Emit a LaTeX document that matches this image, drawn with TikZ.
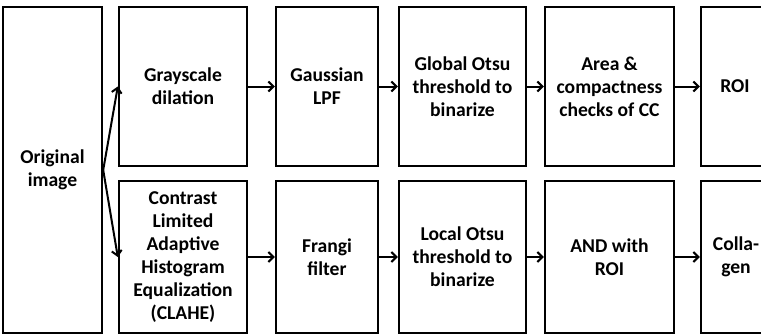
\documentclass[tikz,border=0pt]{standalone}
\usepackage{fontspec}
\setmainfont{Carlito}
\usetikzlibrary{arrows.meta}
\begin{document}
\begin{tikzpicture}[x=1pt,y=-1pt,
  txt/.style={inner sep=0pt,align=center,font=\fontsize{19.6}{23}\selectfont\bfseries},
  box/.style={txt,draw=black,line width=2.4pt,fill=white},
  conn/.style={line width=2pt,-{Straight Barb[length=5pt,width=10pt,line width=2pt]}}]
\useasboundingbox (0,0) rectangle (761,335);
\clip (0,0) rectangle (761,335);
% boxes
\node[box,minimum width=99pt,minimum height=326pt] (orig) at (52.5,170) {Original\\image};
\node[box,minimum width=128pt,minimum height=159pt] (g1) at (183,86.5) {Grayscale\\dilation};
\node[box,minimum width=102pt,minimum height=159pt] (g2) at (327,86.5) {Gaussian\\LPF};
\node[box,minimum width=127pt,minimum height=159pt] (g3) at (462.5,86.5) {Global Otsu\\threshold to\\binarize};
\node[box,minimum width=129pt,minimum height=159pt] (g4) at (609.5,86.5) {Area \&\\compactness\\checks of CC};
\node[box,minimum width=99pt,minimum height=159pt] (g5) at (750.5,86.5) {};
\node[txt] (g5t) at (735,86.5) {ROI};
\node[box,minimum width=128pt,minimum height=152pt] (c1) at (183,257) {Contrast\\Limited\\Adaptive\\Histogram\\Equalization\\(CLAHE)};
\node[box,minimum width=102pt,minimum height=152pt] (c2) at (327,257) {Frangi\\filter};
\node[box,minimum width=127pt,minimum height=152pt] (c3) at (462.5,257) {Local Otsu\\threshold to\\binarize};
\node[box,minimum width=129pt,minimum height=152pt] (c4) at (609.5,257) {AND with\\ROI};
\node[box,minimum width=99pt,minimum height=152pt] (c5) at (750.5,257) {};
\node[txt] (c5t) at (736,257) {Colla-\\gen};
% connectors
\draw[conn] (orig.east) -- (g1.west);
\draw[conn] (orig.east) -- (c1.west);
\draw[conn] (g1) -- (g2);
\draw[conn] (g2) -- (g3);
\draw[conn] (g3) -- (g4);
\draw[conn] (g4) -- (g5);
\draw[conn] (c1) -- (c2);
\draw[conn] (c2) -- (c3);
\draw[conn] (c3) -- (c4);
\draw[conn] (c4) -- (c5);
\end{tikzpicture}
\end{document}
